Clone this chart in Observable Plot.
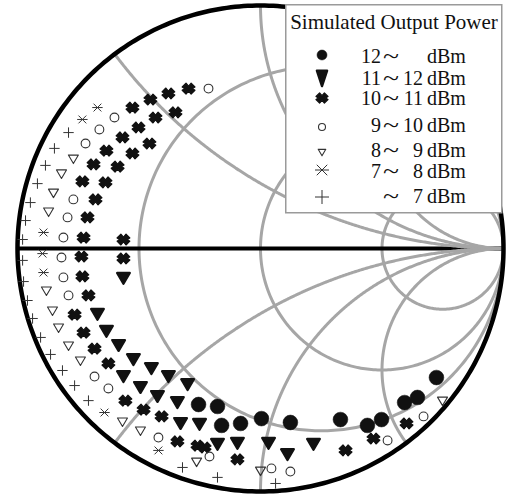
<!DOCTYPE html>
<html><head><meta charset="utf-8">
<script src="https://cdn.jsdelivr.net/npm/d3@7"></script>
<script src="https://cdn.jsdelivr.net/npm/@observablehq/plot@0.6"></script>
<style>
html,body{margin:0;padding:0;background:#fff;}
#wrap{position:relative;width:507px;height:494px;overflow:hidden;}
#legend{position:absolute;left:285px;top:4px;}
</style></head><body><div id="wrap"></div>
<script>
// Reflection coefficient (Re Γ, Im Γ) of each simulated load, grouped by output power
const legendTitle = "Simulated Output Power";
const legendLow  = ["12", "11", "10", "9", "8", "7", ""];
const legendHigh = ["", "12", "11", "10", "9", "8", "7"];
const unit = "dBm";

const g12 = [[-0.255,-0.642],[-0.177,-0.650],[-0.160,-0.728],[-0.082,-0.720],[0.004,-0.700],[0.123,-0.716],[0.329,-0.704],[0.440,-0.728],[0.498,-0.704],[0.593,-0.634],[0.646,-0.613],[0.724,-0.531]];
const g11to12 = [[-0.564,-0.119],[-0.671,-0.267],[-0.634,-0.337],[-0.584,-0.395],[-0.523,-0.453],[-0.449,-0.490],[-0.379,-0.523],[-0.300,-0.556],[-0.564,-0.523],[-0.494,-0.568],[-0.424,-0.605],[-0.342,-0.630],[-0.329,-0.716],[-0.251,-0.720],[-0.177,-0.802],[-0.095,-0.798],[0.033,-0.798],[0.111,-0.844],[0.218,-0.802]];
const g10to11 = [[-0.527,0.580],[-0.453,0.613],[-0.379,0.638],[-0.296,0.658],[-0.350,0.560],[-0.432,0.539],[-0.502,0.498],[-0.568,0.457],[-0.457,0.432],[-0.527,0.391],[-0.634,0.403],[-0.687,0.346],[-0.588,0.337],[-0.733,0.276],[-0.638,0.272],[-0.679,0.202],[-0.712,0.128],[-0.728,0.045],[-0.564,0.037],[-0.737,-0.033],[-0.564,-0.041],[-0.733,-0.115],[-0.708,-0.193],[-0.765,-0.272],[-0.728,-0.346],[-0.683,-0.412],[-0.626,-0.473],[-0.556,-0.626],[-0.481,-0.663],[-0.407,-0.691],[-0.342,-0.794],[-0.259,-0.811],[-0.230,-0.819],[-0.095,-0.868],[0.350,-0.831],[0.465,-0.782],[0.601,-0.720]];
const g9to10 = [[-0.214,0.658],[-0.601,0.539],[-0.663,0.490],[-0.720,0.432],[-0.770,0.202],[-0.794,0.128],[-0.811,0.045],[-0.819,-0.037],[-0.811,-0.119],[-0.790,-0.193],[-0.683,-0.527],[-0.626,-0.576],[-0.420,-0.778],[-0.210,-0.856],[0.045,-0.905],[0.123,-0.918],[0.523,-0.790],[0.671,-0.691]];
const g8to9 = [[-0.770,0.370],[-0.819,0.309],[-0.852,0.230],[-0.872,0.152],[-0.881,-0.173],[-0.856,-0.255],[-0.831,-0.325],[-0.790,-0.399],[-0.741,-0.461],[-0.568,-0.712],[-0.494,-0.749],[-0.263,-0.877],[0.000,-0.914],[0.749,-0.626]];
const g7to8 = [[-0.671,0.580],[-0.733,0.531],[-0.893,0.066],[-0.897,-0.021],[-0.893,-0.099],[-0.642,-0.675],[-0.420,-0.831]];
const g7 = [[-0.790,0.477],[-0.848,0.412],[-0.885,0.342],[-0.918,0.267],[-0.947,0.189],[-0.967,0.115],[-0.979,0.037],[-0.979,-0.049],[-0.975,-0.136],[-0.959,-0.214],[-0.938,-0.288],[-0.905,-0.366],[-0.864,-0.436],[-0.815,-0.502],[-0.765,-0.564],[-0.708,-0.626],[-0.321,-0.901],[-0.177,-0.942],[0.062,-0.967]];

// Smith chart grid values
const resistances = [1/3, 1, 3];
const reactances = [0.5, 1, 2, -0.5, -1, -2];

// ---- symbols ----
const rad = size => Math.sqrt(size / Math.PI);
const circ = {draw(c, size){ const s = rad(size); c.moveTo(s, 0); c.arc(0, 0, s, 0, 2*Math.PI); c.closePath(); }};
const invTri = (w, h) => ({draw(c, size){ const s = rad(size); c.moveTo(-s*w, -s*h*0.7); c.lineTo(s*w, -s*h*0.7); c.lineTo(0, s*h); c.closePath(); }});
const bowtie = {draw(c, size){ const a = rad(size), b = 0.85*a;
  c.moveTo(-a, -0.3*b); c.lineTo(-0.4*a, -b); c.lineTo(0, -0.45*b); c.lineTo(0.4*a, -b); c.lineTo(a, -0.3*b);
  c.lineTo(0.6*a, 0); c.lineTo(a, 0.3*b); c.lineTo(0.4*a, b); c.lineTo(0, 0.45*b); c.lineTo(-0.4*a, b);
  c.lineTo(-a, 0.3*b); c.lineTo(-0.6*a, 0); c.closePath(); }};
const starX = {draw(c, size){ const s = rad(size), d = s*0.75;
  c.moveTo(-d, -d); c.lineTo(d, d); c.moveTo(-d, d); c.lineTo(d, -d); c.moveTo(-s, 0); c.lineTo(s, 0); }};
const plusS = {draw(c, size){ const s = rad(size); c.moveTo(-s, 0); c.lineTo(s, 0); c.moveTo(0, -s); c.lineTo(0, s); }};

const series = [g12, g11to12, g10to11, g9to10, g8to9, g7to8, g7];
const styles = [
  {sym: circ, r: 7.4, fill: "#111", stroke: "#111", sw: 0.5, lsym: circ, lr: 5},
  {sym: invTri(1, 1), r: 6.3, fill: "#111", stroke: "#111", sw: 2.4, lsym: invTri(0.85, 1.5), lr: 6},
  {sym: bowtie, r: 6.4, fill: "#111", stroke: "#111", sw: 1.2, lsym: bowtie, lr: 6},
  {sym: circ, r: 4.4, fill: "none", stroke: "#333", sw: 1.1, lsym: circ, lr: 3.5},
  {sym: invTri(1, 1), r: 5, fill: "none", stroke: "#333", sw: 1.1, lsym: invTri(1, 1), lr: 3.8},
  {sym: starX, r: 5.2, fill: "none", stroke: "#333", sw: 1, lsym: starX, lr: 7},
  {sym: plusS, r: 5.2, fill: "none", stroke: "#333", sw: 1, lsym: plusS, lr: 7}
];

// ---- grid geometry ----
const outer = d3.range(0, 361).map(d => ({gx: Math.cos(d*Math.PI/180), gy: Math.sin(d*Math.PI/180)}));
const rGrid = resistances.flatMap(r => d3.range(0, 361).map(d => {
  const c = r/(1+r), rho = 1/(1+r), t = d*Math.PI/180;
  return {id: "r" + r, gx: c + rho*Math.cos(t), gy: rho*Math.sin(t)};
}));
const xGrid = reactances.flatMap(x => d3.range(0, 401).map(i => {
  if (i === 400) return {id: "x" + x, gx: 1, gy: 0};
  const r = Math.tan(i/400*Math.PI/2), den = (r+1)*(r+1) + x*x;
  return {id: "x" + x, gx: (r*r + x*x - 1)/den, gy: 2*x/den};
}));

const gray = "#a6a6a6";
const marks = [
  Plot.line(rGrid, {x: "gx", y: "gy", z: "id", stroke: gray, strokeWidth: 3}),
  Plot.ruleY([0], {x1: -1, x2: 1, stroke: "#000", strokeWidth: 4}),
  Plot.line(xGrid, {x: "gx", y: "gy", z: "id", stroke: gray, strokeWidth: 3}),
  Plot.line(outer, {x: "gx", y: "gy", stroke: "#000", strokeWidth: 4.5})
];
series.forEach((s, i) => {
  const st = styles[i];
  marks.push(Plot.dot(s.map(([gx, gy]) => ({gx, gy})), {
    x: "gx", y: "gy", symbol: st.sym, r: st.r, fill: st.fill, stroke: st.stroke,
    strokeWidth: st.sw, strokeLinejoin: "round"
  }));
});

const chart = Plot.plot({
  width: 507, height: 494, margin: 0,
  x: {domain: [-1, 1], range: [17, 503], axis: null},
  y: {domain: [-1, 1], range: [491, 5], axis: null},
  style: {background: "white"},
  marks
});
document.getElementById("wrap").appendChild(chart);

// ---- legend (overlay inside chart area) ----
const rowBase = [59, 81, 101, 128, 153, 174, 199];
const symY = [51, 73, 94, 123, 148, 166, 193];
const font = "'Liberation Serif', 'Times New Roman', serif";
const lg = d3.create("svg").attr("id", "legend").attr("width", 218).attr("height", 211);
lg.append("rect").attr("x", 0.75).attr("y", 0.75).attr("width", 216).attr("height", 208)
  .attr("fill", "white").attr("stroke", "#9a9a9a").attr("stroke-width", 1.5);
lg.append("text").attr("x", 109).attr("y", 25).attr("text-anchor", "middle")
  .attr("font-family", font).attr("font-size", 21).attr("fill", "#111").text(legendTitle);
styles.forEach((st, i) => {
  lg.append("path").attr("transform", `translate(37,${symY[i]})`)
    .attr("d", d3.symbol(st.lsym, Math.PI*st.lr*st.lr)())
    .attr("fill", st.fill).attr("stroke", st.stroke).attr("stroke-width", st.sw)
    .attr("stroke-linejoin", "round");
  const g = lg.append("g").attr("font-family", font).attr("font-size", 20).attr("fill", "#111");
  g.append("text").attr("x", 96).attr("y", rowBase[i]).attr("text-anchor", "end").text(legendLow[i]);
  g.append("text").attr("x", 98).attr("y", rowBase[i]).attr("textLength", 16)
    .attr("lengthAdjust", "spacingAndGlyphs").text("~");
  g.append("text").attr("x", 138).attr("y", rowBase[i]).attr("text-anchor", "end").text(legendHigh[i]);
  g.append("text").attr("x", 142).attr("y", rowBase[i]).text(unit);
});
document.getElementById("wrap").appendChild(lg.node());
</script>
</body></html>
